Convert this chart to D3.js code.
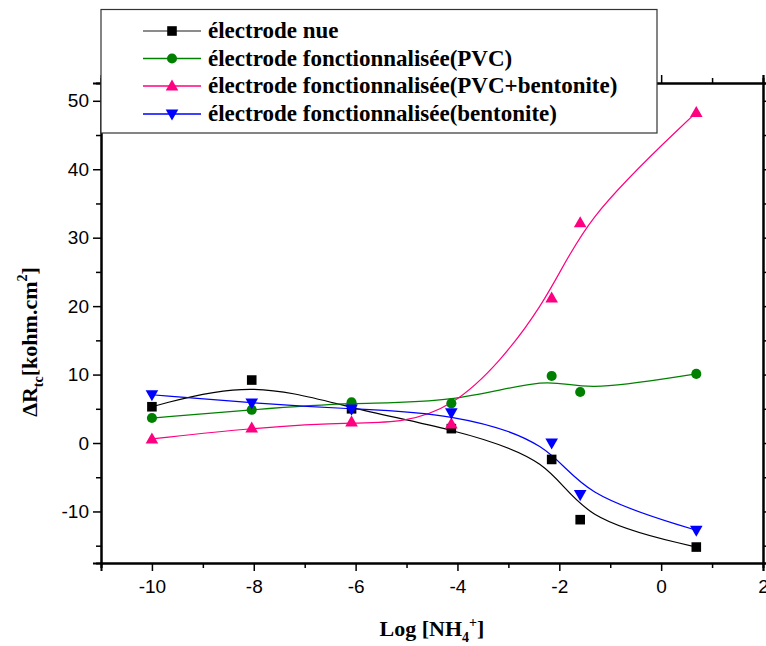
<!DOCTYPE html>
<html>
<head>
<meta charset="utf-8">
<script src="https://cdn.jsdelivr.net/npm/d3@7"></script>
<style>
  html, body { margin: 0; padding: 0; background: #fff; }
  svg { display: block; }
</style>
</head>
<body>
<svg id="chart" width="766" height="646"></svg>
<script>
// Log[NH4+] concentrations (x) shared by all series
const logConc = [-10, -8.04, -6.08, -4.12, -2.15, -1.59, 0.69];

// ΔRtc values (kohm.cm²) per electrode
const nue        = [5.3, 9.2, 5.0, 2.1, -2.4, -11.2, -15.2];
const pvc        = [3.65, 4.85, 5.95, 5.8, 9.8, 7.45, 10.1];
const pvcBento   = [0.6, 2.2, 3.1, 2.8, 21.2, 32.2, 48.3];
const bentonite  = [7.05, 5.85, 4.95, 4.4, 0.0, -7.55, -12.75];

const seriesNames = [
  "électrode nue",
  "électrode fonctionnalisée(PVC)",
  "électrode fonctionnalisée(PVC+bentonite)",
  "électrode fonctionnalisée(bentonite)"
];
const seriesValues = [nue, pvc, pvcBento, bentonite];
const seriesColors = ["#000000", "#008000", "#ff0080", "#0000ff"];
const seriesSymbols = ["square", "circle", "triangleUp", "triangleDown"];

const xMajorTicks = [-10, -8, -6, -4, -2, 0, 2];
const xMinorTicks = [-11, -9, -7, -5, -3, -1, 1];
const yMajorTicks = [-10, 0, 10, 20, 30, 40, 50];
const yMinorTicks = [-15, -5, 5, 15, 25, 35, 45];

const svg = d3.select("#chart");
const plot = { left: 101, right: 763, top: 83, bottom: 563 };

const x = d3.scaleLinear().domain([-11, 2]).range([plot.left, plot.right]);
const y = d3.scaleLinear().domain([-17.53, 52.6]).range([plot.bottom, plot.top]);

// symbol path generators
function symbolPath(kind) {
  if (kind === "square") return "M-4.8,-4.8H4.8V4.8H-4.8Z";
  if (kind === "circle") return d3.symbol(d3.symbolCircle, 80)();
  if (kind === "triangleUp") return "M0,-6.5L6.3,4.6L-6.3,4.6Z";
  return "M0,6.5L6.3,-4.6L-6.3,-4.6Z";
}

// curves (B-spline through the end points)
const line = d3.line()
  .x(d => x(d[0]))
  .y(d => y(d[1]))
  .curve(d3.curveBasis);

const dataGroup = svg.append("g");
seriesValues.forEach((vals, i) => {
  const pts = logConc.map((c, k) => [c, vals[k]]);
  dataGroup.append("path")
    .attr("d", line(pts))
    .attr("fill", "none")
    .attr("stroke", seriesColors[i])
    .attr("stroke-width", 1.2);
});
seriesValues.forEach((vals, i) => {
  dataGroup.selectAll(null)
    .data(logConc.map((c, k) => [c, vals[k]]))
    .join("path")
    .attr("transform", d => `translate(${x(d[0])},${y(d[1])})`)
    .attr("d", symbolPath(seriesSymbols[i]))
    .attr("fill", seriesColors[i]);
});

// axes: bottom/left with labels, top/right ticks only
const tickFont = "'Liberation Sans', Arial, sans-serif";
function addAxis(axisFn, scale, transform, majors, minors, labels) {
  const g = svg.append("g").attr("transform", transform);
  g.call(axisFn(scale).tickValues(minors).tickSize(5).tickFormat(""));
  const g2 = svg.append("g").attr("transform", transform);
  g2.call(axisFn(scale).tickValues(majors).tickSize(8).tickPadding(4)
    .tickFormat(labels ? d3.format("d") : ""));
  [g, g2].forEach(gg => {
    gg.selectAll("path.domain").attr("stroke", "#000").attr("stroke-width", 2);
    gg.selectAll(".tick line").attr("stroke", "#000").attr("stroke-width", 1.5);
    gg.selectAll("text")
      .attr("font-family", tickFont)
      .attr("font-size", 19)
      .attr("fill", "#000");
  });
  return g2;
}
addAxis(d3.axisTop, x, `translate(0,${plot.top})`, xMajorTicks, xMinorTicks, false);
addAxis(d3.axisRight, y, `translate(${plot.right},0)`, yMajorTicks, yMinorTicks, false);
const xAx = addAxis(d3.axisBottom, x, `translate(0,${plot.bottom})`, xMajorTicks, xMinorTicks, true);
xAx.selectAll("text").attr("dy", "0.95em").text(d => d < 0 ? "-" + Math.abs(d) : d);
const yAx = addAxis(d3.axisLeft, y, `translate(${plot.left},0)`, yMajorTicks, yMinorTicks, true);
yAx.selectAll("text").text(d => d < 0 ? "-" + Math.abs(d) : d);

// legend
const legend = svg.append("g");
legend.append("rect")
  .attr("x", 101).attr("y", 9.5)
  .attr("width", 556).attr("height", 123.5)
  .attr("fill", "#fff").attr("stroke", "#333").attr("stroke-width", 1.2);
const rowY = [31, 58.5, 86, 114];
seriesNames.forEach((name, i) => {
  const gy = rowY[i];
  legend.append("line")
    .attr("x1", 143).attr("x2", 201).attr("y1", gy).attr("y2", gy)
    .attr("stroke", i === 0 ? "#666" : seriesColors[i])
    .attr("stroke-width", i === 2 ? 1.6 : 1.3);
  legend.append("path")
    .attr("transform", `translate(172,${gy})`)
    .attr("d", symbolPath(seriesSymbols[i]))
    .attr("fill", seriesColors[i]);
  legend.append("text")
    .attr("x", 208).attr("y", gy + 7)
    .attr("font-family", "'Liberation Serif', 'Times New Roman', serif")
    .attr("font-weight", "bold")
    .attr("font-size", 23)
    .attr("fill", "#000")
    .text(name);
});

// axis titles
const titleFont = "'Liberation Serif', 'Times New Roman', serif";
const xt = svg.append("text")
  .attr("x", 432).attr("y", 636)
  .attr("text-anchor", "middle")
  .attr("font-family", titleFont).attr("font-weight", "bold")
  .attr("font-size", 22).attr("fill", "#000");
xt.append("tspan").text("Log [NH");
xt.append("tspan").attr("font-size", 14).attr("dy", 6).text("4");
xt.append("tspan").attr("font-size", 14).attr("dy", -15).text("+");
xt.append("tspan").attr("dy", 9).text("]");

const yt = svg.append("text")
  .attr("transform", "translate(37,342) rotate(-90)")
  .attr("text-anchor", "middle")
  .attr("font-family", titleFont).attr("font-weight", "bold")
  .attr("font-size", 22).attr("fill", "#000");
yt.append("tspan").text("ΔR");
yt.append("tspan").attr("font-size", 14).attr("dy", 6).text("tc");
yt.append("tspan").attr("dy", -6).text("[kohm.cm");
yt.append("tspan").attr("font-size", 14).attr("dy", -10).text("2");
yt.append("tspan").attr("dy", 10).text("]");
</script>
</body>
</html>
